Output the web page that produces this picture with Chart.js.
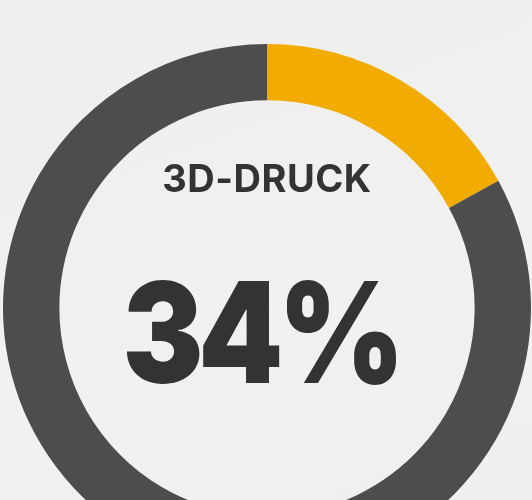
<!DOCTYPE html>
<html>
<head>
<meta charset="utf-8">
<script src="https://cdn.jsdelivr.net/npm/chart.js@4"></script>
<style>
  html, body { margin: 0; padding: 0; width: 532px; height: 500px; overflow: hidden; }
  body { background: linear-gradient(160deg, #eeeeee 0%, #f1f1f1 60%, #efefef 100%); position: relative; font-family: Inter, "Open Sans", sans-serif; }
  #wrap { position: absolute; left: 0; top: 41px; width: 534px; height: 534px; }
  .label { position: absolute; left: 0; width: 534px; text-align: center; color: #333333; }
  #title { top: 155px; font-size: 38px; font-weight: 700; letter-spacing: 0.5px; }
  #value { top: 262px; left: -6px; font-size: 140px; font-weight: 900; letter-spacing: -6px; line-height: 1; transform: scaleX(0.865); transform-origin: 50% 50%; }
</style>
</head>
<body>
<div id="wrap"><canvas id="c"></canvas></div>
<div class="label" id="title">3D-DRUCK</div>
<div class="label" id="value">34%</div>
<script>
const categories = ["3D-Druck", "Rest"];
const shareValues = [34, 166];
const displayPercent = 34;
const segmentColors = ["#F2AB00", "#4D4D4D"];

document.getElementById('value').textContent = displayPercent + '%';

new Chart(document.getElementById('c'), {
  type: 'doughnut',
  data: {
    labels: categories,
    datasets: [{
      data: shareValues,
      backgroundColor: segmentColors,
      borderWidth: 0,
      hoverOffset: 0
    }]
  },
  options: {
    responsive: true,
    maintainAspectRatio: false,
    animation: false,
    radius: 264,
    cutout: 210,
    layout: { padding: 0 },
    plugins: { legend: { display: false }, tooltip: { enabled: false } }
  }
});
</script>
</body>
</html>
